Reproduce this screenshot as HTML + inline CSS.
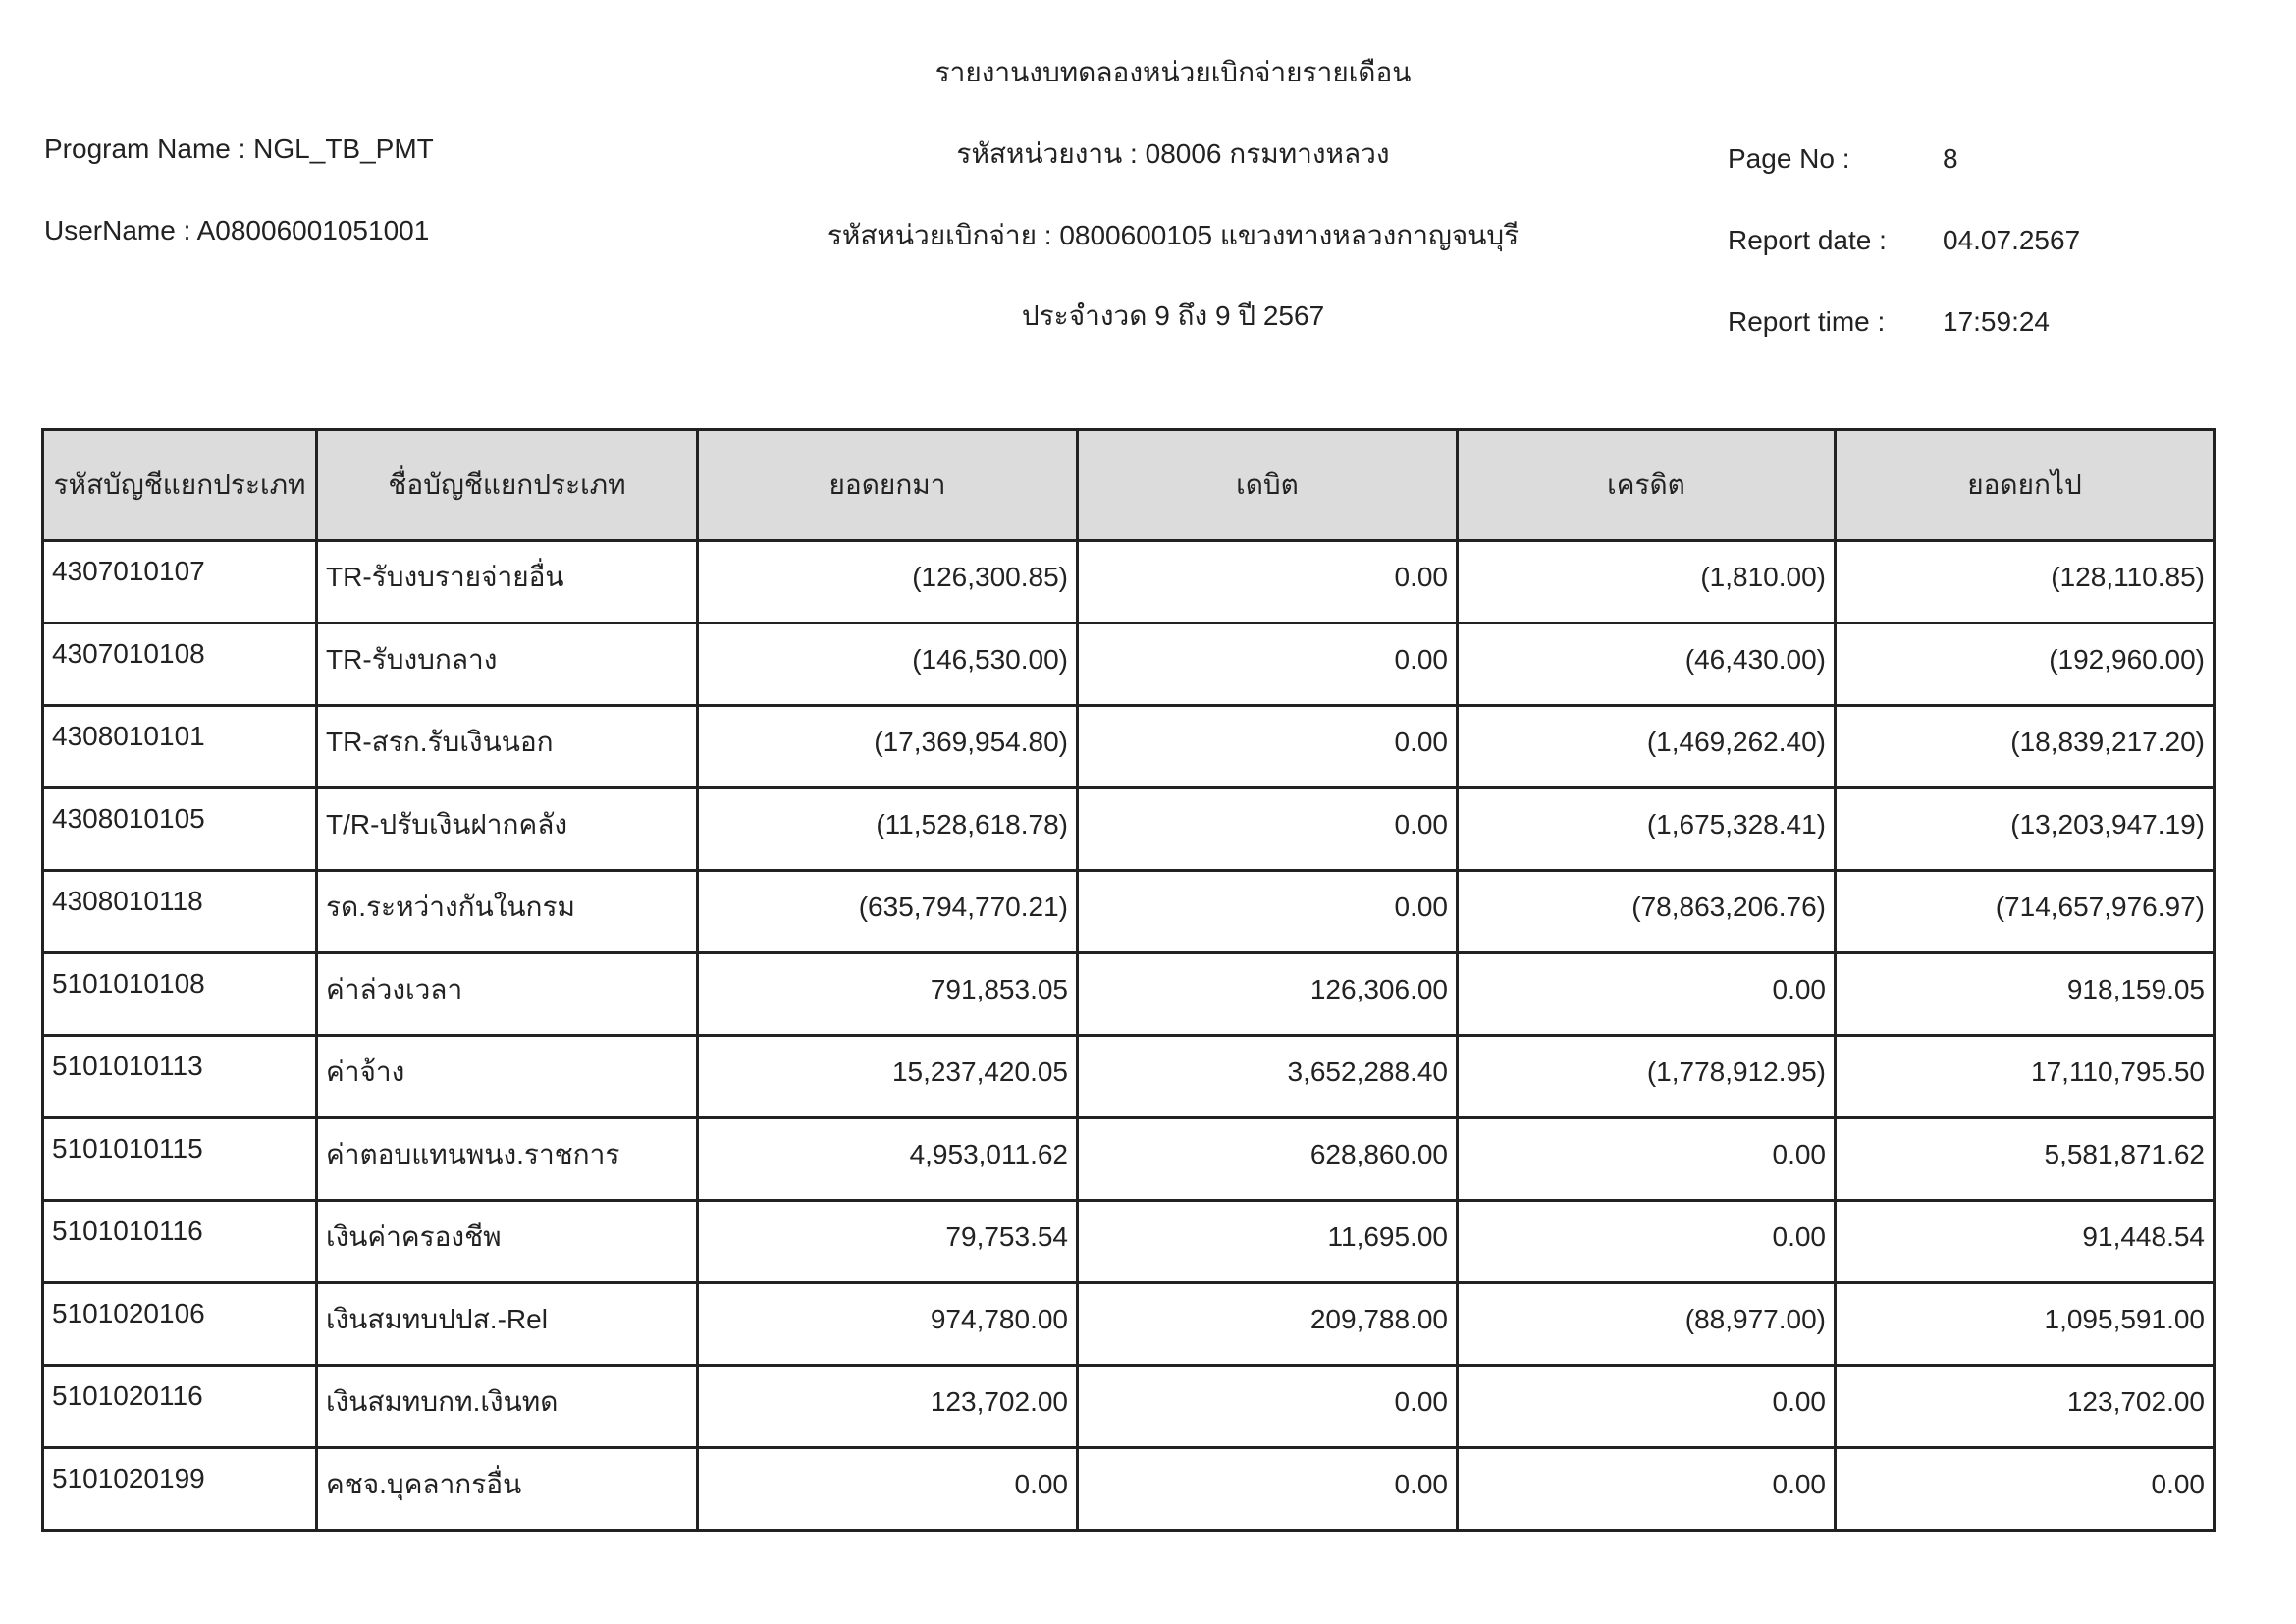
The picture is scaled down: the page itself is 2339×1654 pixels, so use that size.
<!DOCTYPE html>
<html><head><meta charset="utf-8"><style>
body{margin:0;background:#fff;width:2339px;height:1654px;position:relative;overflow:hidden;font-family:"Liberation Sans","DejaVu Sans",sans-serif;color:#222;}
.t{position:absolute;font-size:28px;white-space:nowrap;line-height:1}
.c{transform:translateX(-50%)}
table{position:absolute;left:42px;top:436px;border-collapse:collapse;table-layout:fixed;font-size:28px}
td,th{border:3px solid #222;padding:0 8px;vertical-align:top}
th{height:110px;background:#dcdcdc;font-weight:normal;vertical-align:middle}
td{height:61px;padding-top:14px}
td.n{text-align:right;padding-top:20px}
</style></head><body>
<div class="t c" style="left:1195px;top:60px">รายงานงบทดลองหน่วยเบิกจ่ายรายเดือน</div>
<div class="t" style="left:45px;top:138px">Program Name : NGL_TB_PMT</div>
<div class="t" style="left:45px;top:221px">UserName : A08006001051001</div>
<div class="t c" style="left:1195px;top:143px">รหัสหน่วยงาน : 08006 กรมทางหลวง</div>
<div class="t c" style="left:1195px;top:226px">รหัสหน่วยเบิกจ่าย : 0800600105 แขวงทางหลวงกาญจนบุรี</div>
<div class="t c" style="left:1195px;top:308px">ประจำงวด 9 ถึง 9 ปี 2567</div>
<div class="t" style="left:1760px;top:148px">Page No :</div>
<div class="t" style="left:1979px;top:148px">8</div>
<div class="t" style="left:1760px;top:231px">Report date :</div>
<div class="t" style="left:1979px;top:231px">04.07.2567</div>
<div class="t" style="left:1760px;top:314px">Report time :</div>
<div class="t" style="left:1979px;top:314px">17:59:24</div>
<table>
<colgroup><col style="width:279px"><col style="width:388px"><col style="width:387px"><col style="width:387px"><col style="width:385px"><col style="width:386px"></colgroup>
<tr><th>รหัสบัญชีแยกประเภท</th><th>ชื่อบัญชีแยกประเภท</th><th>ยอดยกมา</th><th>เดบิต</th><th>เครดิต</th><th>ยอดยกไป</th></tr>
<tr><td>4307010107</td><td>TR-รับงบรายจ่ายอื่น</td><td class="n">(126,300.85)</td><td class="n">0.00</td><td class="n">(1,810.00)</td><td class="n">(128,110.85)</td></tr>
<tr><td>4307010108</td><td>TR-รับงบกลาง</td><td class="n">(146,530.00)</td><td class="n">0.00</td><td class="n">(46,430.00)</td><td class="n">(192,960.00)</td></tr>
<tr><td>4308010101</td><td>TR-สรก.รับเงินนอก</td><td class="n">(17,369,954.80)</td><td class="n">0.00</td><td class="n">(1,469,262.40)</td><td class="n">(18,839,217.20)</td></tr>
<tr><td>4308010105</td><td>T/R-ปรับเงินฝากคลัง</td><td class="n">(11,528,618.78)</td><td class="n">0.00</td><td class="n">(1,675,328.41)</td><td class="n">(13,203,947.19)</td></tr>
<tr><td>4308010118</td><td>รด.ระหว่างกันในกรม</td><td class="n">(635,794,770.21)</td><td class="n">0.00</td><td class="n">(78,863,206.76)</td><td class="n">(714,657,976.97)</td></tr>
<tr><td>5101010108</td><td>ค่าล่วงเวลา</td><td class="n">791,853.05</td><td class="n">126,306.00</td><td class="n">0.00</td><td class="n">918,159.05</td></tr>
<tr><td>5101010113</td><td>ค่าจ้าง</td><td class="n">15,237,420.05</td><td class="n">3,652,288.40</td><td class="n">(1,778,912.95)</td><td class="n">17,110,795.50</td></tr>
<tr><td>5101010115</td><td>ค่าตอบแทนพนง.ราชการ</td><td class="n">4,953,011.62</td><td class="n">628,860.00</td><td class="n">0.00</td><td class="n">5,581,871.62</td></tr>
<tr><td>5101010116</td><td>เงินค่าครองชีพ</td><td class="n">79,753.54</td><td class="n">11,695.00</td><td class="n">0.00</td><td class="n">91,448.54</td></tr>
<tr><td>5101020106</td><td>เงินสมทบปปส.-Rel</td><td class="n">974,780.00</td><td class="n">209,788.00</td><td class="n">(88,977.00)</td><td class="n">1,095,591.00</td></tr>
<tr><td>5101020116</td><td>เงินสมทบกท.เงินทด</td><td class="n">123,702.00</td><td class="n">0.00</td><td class="n">0.00</td><td class="n">123,702.00</td></tr>
<tr><td>5101020199</td><td>คชจ.บุคลากรอื่น</td><td class="n">0.00</td><td class="n">0.00</td><td class="n">0.00</td><td class="n">0.00</td></tr>
</table>
</body></html>
